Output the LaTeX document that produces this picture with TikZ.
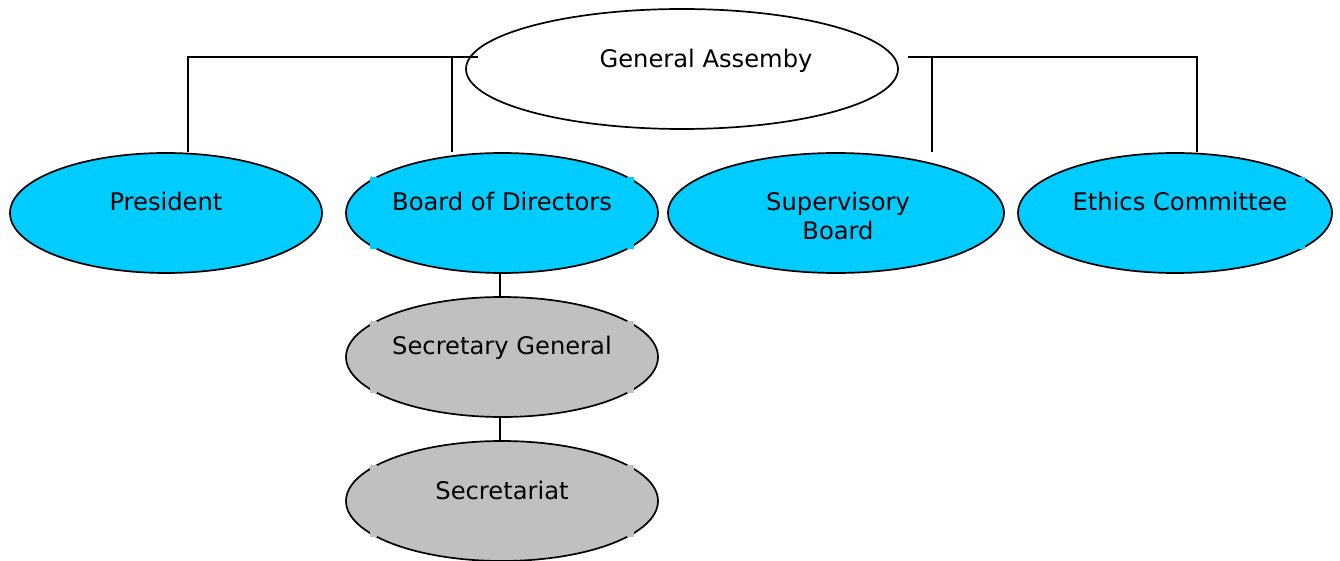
\documentclass[tikz,border=0pt]{standalone}
\usepackage{fontspec}
\setmainfont{DejaVu Sans}
\usetikzlibrary{shapes.geometric,calc}
\definecolor{cyanfill}{HTML}{00CCFF}
\definecolor{grayfill}{HTML}{C0C0C0}
\begin{document}
\begin{tikzpicture}[x=1pt,y=-1pt,
  oval/.style={ellipse, draw=black, line width=1.7pt, inner sep=0pt, minimum height=120pt},
  unit/.style={oval, fill=cyanfill},
  office/.style={oval, fill=grayfill},
  lbl/.style={font=\fontsize{24.2}{29}\selectfont, align=center, inner sep=0pt, anchor=base},
  link/.style={line width=1.7pt},
  handle/.style={fill=#1}
]
\useasboundingbox (0,0) rectangle (1340,561);

% ovals
\node[oval, fill=white, minimum width=432pt] (ga) at (682,69) {};
\node[unit, minimum width=312pt] (pres) at (166,213) {};
\node[unit, minimum width=312pt] (board) at (502,213) {};
\node[unit, minimum width=336pt] (sup) at (836,213) {};
\node[unit, minimum width=314pt] (eth) at (1175,213) {};
\node[office, minimum width=312pt] (sg) at (502,357) {};
\node[office, minimum width=312pt] (sec) at (502,501) {};

% corner handles
\foreach \n/\c in {board/cyanfill, sg/grayfill, sec/grayfill}{
  \foreach \dx in {-132,125}{
    \foreach \dy in {-36,29}{
      \fill[handle=\c] ($(\n.center)+(\dx,\dy)$) rectangle ++(7,7);
    }
  }
}
\foreach \dy in {-36,29}{
  \fill[handle=cyanfill] ($(eth.center)+(122,\dy)$) rectangle ++(8,7);
}

% labels
\node[lbl] (gaT) at (706,68) {General Assemby};
\node[lbl] (presT) at (166,211) {President};
\node[lbl] (boardT) at (502,211) {Board of Directors};
\node[lbl] (supT) at (838,240) {Supervisory\\Board};
\node[lbl] (ethT) at (1180,211) {Ethics Committee};
\node[lbl] (sgT) at (502,354) {Secretary General};
\node[lbl] (secT) at (502,499) {Secretariat};

% connectors
\coordinate (lt) at (188,57);
\coordinate (lm) at (452,57);
\coordinate (le) at (478,57);
\coordinate (re) at (908,57);
\coordinate (rm) at (932,57);
\coordinate (rt) at (1197,57);
\draw[link] (le) -- (lt) -- (pres.north -| lt);
\draw[link] (lm) -- (board.north -| lm);
\draw[link] (re) -- (rt) -- (eth.north -| rt);
\draw[link] (rm) -- (sup.north -| rm);
\draw[link] ($(board.south)+(-2,0)$) -- ($(sg.north)+(-2,0)$);
\draw[link] ($(sg.south)+(-2,0)$) -- ($(sec.north)+(-2,0)$);
\end{tikzpicture}
\end{document}
